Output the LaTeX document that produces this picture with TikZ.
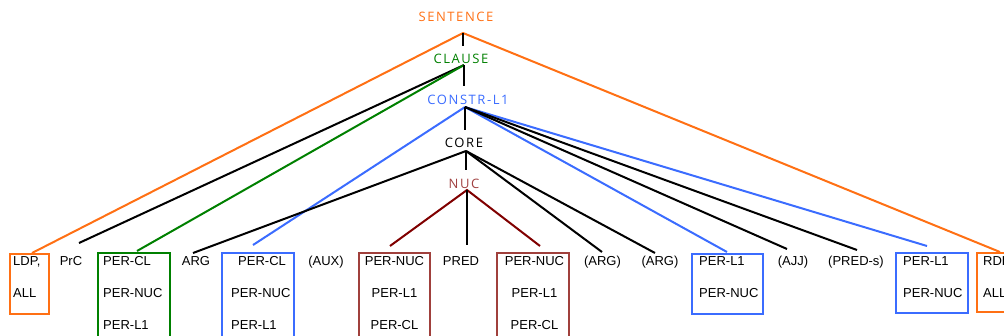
\documentclass[tikz,border=0pt]{standalone}
\usepackage{fontspec}
\setmainfont{Liberation Sans}
\newfontfamily\topfont[LetterSpace=12]{Open Sans}
\definecolor{orangeC}{RGB}{255,112,20}
\definecolor{greenC}{RGB}{0,128,0}
\definecolor{blueC}{RGB}{59,108,255}
\definecolor{nucLine}{RGB}{128,0,0}
\definecolor{nucBox}{RGB}{160,64,60}
\definecolor{nucText}{RGB}{160,64,64}
\begin{document}
\begin{tikzpicture}[x=1pt,y=-1pt,
  lbl/.style={font=\fontsize{13}{13}\selectfont, inner sep=0pt, text height=9.4pt, text depth=0pt},
  toplbl/.style={font=\topfont\fontsize{13}{13}\selectfont, inner sep=0pt, text height=9.4pt, text depth=0pt},
  boxst/.style={line width=2pt, inner sep=0pt, anchor=north west},
  conn/.style={line width=2pt},
]
\useasboundingbox (0,0) rectangle (1004,335);
\clip (0,0) rectangle (1004,335);

% top labels
\node[toplbl, text=orangeC] (sentence) at (456,17) {SENTENCE};
\node[toplbl, text=greenC] (clause) at (461,59) {CLAUSE};
\node[toplbl, text=blueC] (constr) at (468,100) {CONSTR-L1};
\node[toplbl, text=black] (core) at (464,143) {CORE};
\node[toplbl, text=nucText] (nuc) at (464,184) {NUC};

% apex coordinates
\coordinate (sA) at (463,33);  \coordinate (sV) at (463,46);
\coordinate (cA) at (464,65);  \coordinate (cV) at (464,86);
\coordinate (lA) at (465,107); \coordinate (lV) at (465,130);
\coordinate (oA) at (466,151); \coordinate (oV) at (466,170);
\coordinate (nA) at (467,190);

% boxes
\node[boxst, draw=orangeC, minimum width=39, minimum height=60] (ldpbox) at (9,253) {};
\node[boxst, draw=greenC, minimum width=72, minimum height=100] (gbox) at (97,252) {};
\node[boxst, draw=blueC, minimum width=72, minimum height=100] (b1box) at (221,252) {};
\node[boxst, draw=nucBox, minimum width=71, minimum height=100] (r1box) at (358,252) {};
\node[boxst, draw=nucBox, minimum width=72, minimum height=100] (r2box) at (496,252) {};
\node[boxst, draw=blueC, minimum width=71, minimum height=60] (b2box) at (691,253) {};
\node[boxst, draw=blueC, minimum width=72, minimum height=60] (b3box) at (895,252) {};
\node[boxst, draw=orangeC, minimum width=60, minimum height=59] (rdpbox) at (976,252) {};

% texts
\node[lbl, anchor=west] (ldp) at (13,261) {LDP,};
\node[lbl, anchor=west] (ldp2) at (13,293) {ALL};
\node[lbl] (prc) at (71,261) {PrC};
\node[lbl, anchor=west] (g1) at (103,261) {PER-CL};
\node[lbl, anchor=west] (g2) at (103,293) {PER-NUC};
\node[lbl, anchor=west] (g3) at (103,325) {PER-L1};
\node[lbl] (arg) at (196,261) {ARG};
\node[lbl, anchor=west] (bl1) at (238,261) {PER-CL};
\node[lbl, anchor=west] (bl2) at (231,293) {PER-NUC};
\node[lbl, anchor=west] (bl3) at (231,325) {PER-L1};
\node[lbl] (aux) at (326,261) {(AUX)};
\node[lbl] (r11) at (394.5,261) {PER-NUC};
\node[lbl] (r12) at (394.5,293) {PER-L1};
\node[lbl] (r13) at (394.5,325) {PER-CL};
\node[lbl] (pred) at (461,261) {PRED};
\node[lbl] (r21) at (534.5,261) {PER-NUC};
\node[lbl] (r22) at (534.5,293) {PER-L1};
\node[lbl] (r23) at (534.5,325) {PER-CL};
\node[lbl] (arg1) at (602.5,261) {(ARG)};
\node[lbl] (arg2) at (660,261) {(ARG)};
\node[lbl, anchor=west] (b21) at (699,261) {PER-L1};
\node[lbl, anchor=west] (b22) at (699,293) {PER-NUC};
\node[lbl] (ajj) at (793,261) {(AJJ)};
\node[lbl] (preds) at (856,261) {(PRED-s)};
\node[lbl, anchor=west] (b31) at (903,261) {PER-L1};
\node[lbl, anchor=west] (b32) at (903,293) {PER-NUC};
\node[lbl, anchor=west] (rdp) at (983,261) {RDP,};
\node[lbl, anchor=west] (rdp2) at (983,293) {ALL};

% end coordinates
\coordinate (eLdp) at (32,253);
\coordinate (eRdp) at (1000,252);
\coordinate (ePrc) at (79,243);
\coordinate (eG) at (137,251);
\coordinate (eArg) at (193,253);
\coordinate (eB1) at (253,245);
\coordinate (eB2) at (727,252);
\coordinate (eAjj) at (787,249);
\coordinate (ePreds) at (857,250);
\coordinate (eB3) at (927,246);
\coordinate (eArg1) at (602,252);
\coordinate (eArg2) at (655,253);
\coordinate (eR1) at (390,246);
\coordinate (ePred) at (467,245);
\coordinate (eR2) at (540,246);

% connectors
\draw[conn, orangeC] (eLdp) -- (sA) -- (eRdp);
\draw[conn] (sA) -- (sV);
\draw[conn] (cA) -- (ePrc);
\draw[conn, greenC] (cA) -- (eG);
\draw[conn] (cA) -- (cV);
\draw[conn, blueC] (lA) -- (eB1);
\draw[conn, blueC] (lA) -- (eB2);
\draw[conn, blueC] (lA) -- (eB3);
\draw[conn] (lA) -- (eAjj);
\draw[conn] (lA) -- (ePreds);
\draw[conn] (lA) -- (lV);
\draw[conn] (oA) -- (eArg);
\draw[conn] (oA) -- (eArg1);
\draw[conn] (oA) -- (eArg2);
\draw[conn] (oA) -- (oV);
\draw[conn, nucLine] (eR1) -- (nA) -- (eR2);
\draw[conn] (nA) -- (ePred);
\end{tikzpicture}
\end{document}
